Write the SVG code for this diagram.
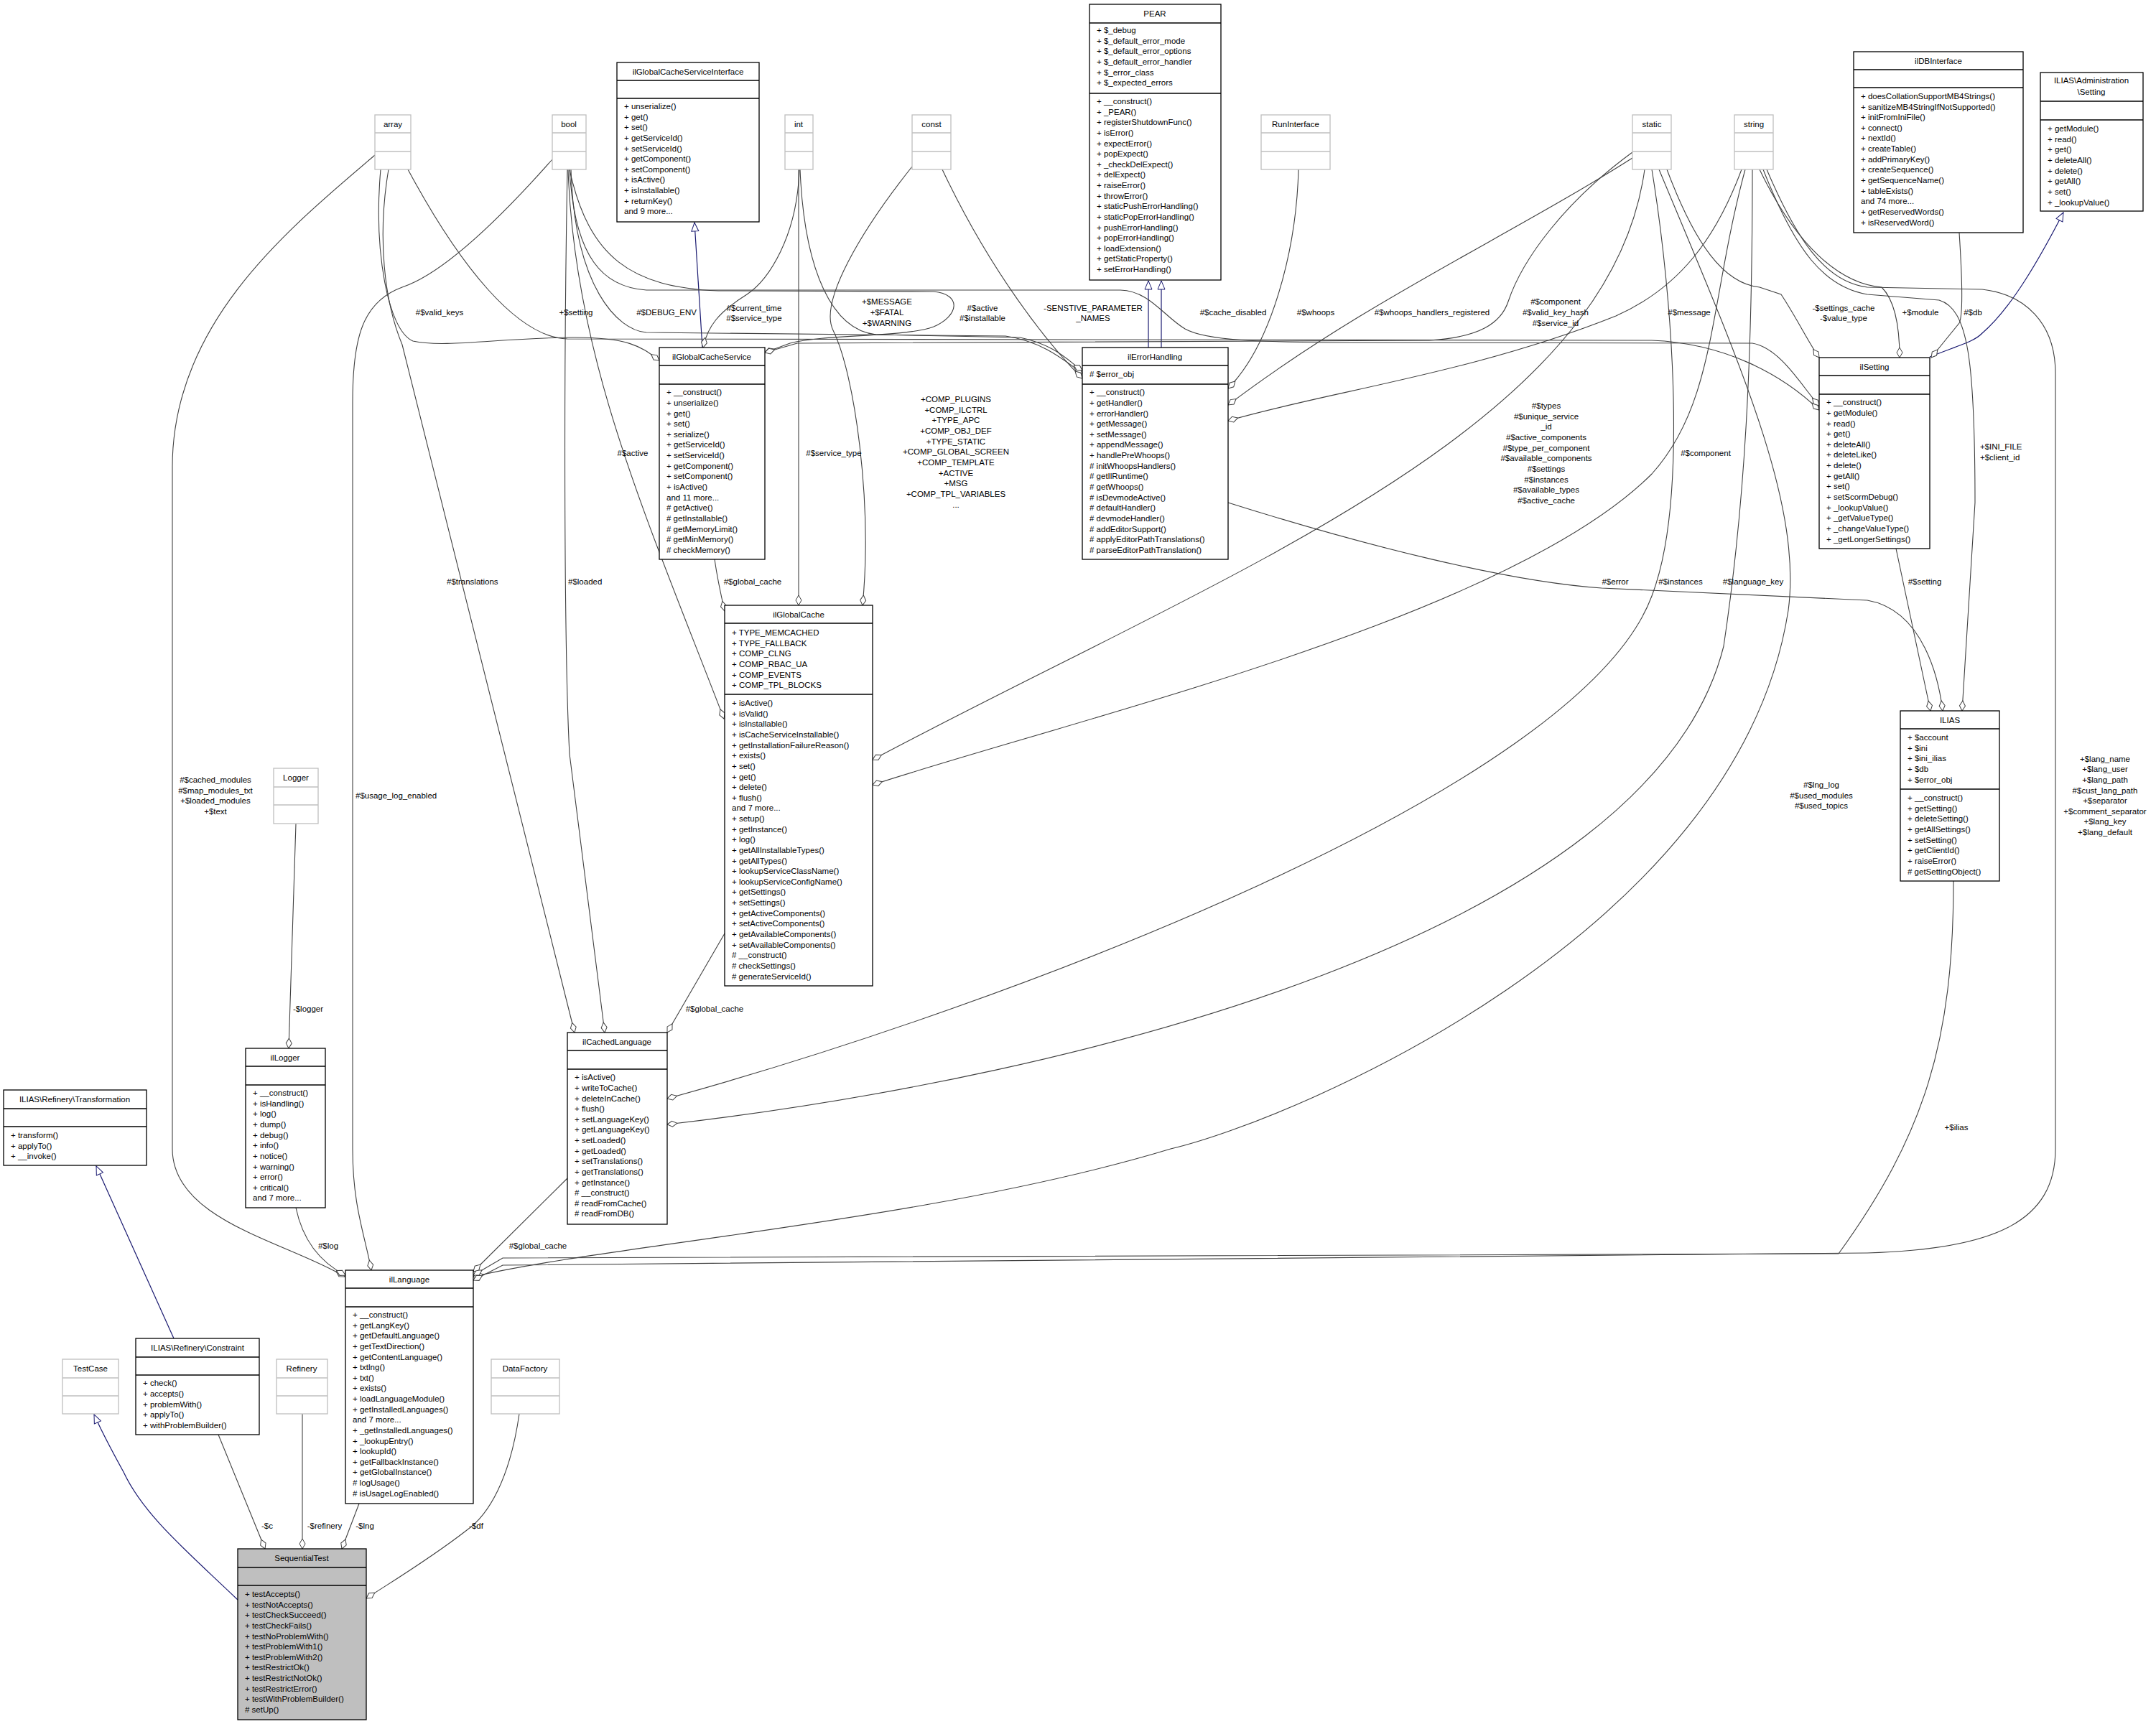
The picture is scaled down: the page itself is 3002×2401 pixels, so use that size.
<svg xmlns="http://www.w3.org/2000/svg" width="3002" height="2401" viewBox="0 0 3002 2401">
<style>
text{font-family:"Liberation Sans",Arial,sans-serif;font-size:11.5px;fill:#000}
.t{text-anchor:middle}
.b{fill:#fff;stroke:#000;stroke-width:1.3}
.g{fill:#fff;stroke:#bfbfbf;stroke-width:1.3}
.s{fill:#bfbfbf;stroke:#000;stroke-width:1.3}
.l{stroke:#000;stroke-width:1.3}
.lg{stroke:#bfbfbf;stroke-width:1.3}
.e{fill:none;stroke:#404040;stroke-width:1.1;marker-end:url(#dia)}
.i{fill:none;stroke:#191970;stroke-width:1.2;marker-end:url(#tri)}
.el{text-anchor:middle}
</style>
<defs>
<marker id="dia" markerWidth="16" markerHeight="10" refX="15" refY="5" orient="auto" markerUnits="userSpaceOnUse"><path d="M1,5 L8,1 L15,5 L8,9 Z" fill="#fff" stroke="#404040" stroke-width="1"/></marker>
<marker id="tri" markerWidth="14" markerHeight="12" refX="13" refY="6" orient="auto" markerUnits="userSpaceOnUse"><path d="M1,1 L13,6 L1,11 Z" fill="#fff" stroke="#191970" stroke-width="1"/></marker>
</defs>
<rect width="3002" height="2401" fill="#fff"/>

<g id="connectors">
<path class="i" d="M978,484 L967,310"/>
<path class="i" d="M1599,484 L1599,391"/>
<path class="i" d="M1617,484 L1617,391"/>
<path class="i" d="M2687,497 C2730,480 2750,475 2760,464 C2800,430 2840,360 2873,296"/>
<path class="i" d="M242,1864 L134,1624"/>
<path class="i" d="M331,2228 C260,2160 200,2110 172,2050 C150,2010 140,1990 131,1970"/>

<path class="e" d="M522,216 C400,320 240,450 240,650 L240,1600 C240,1700 400,1730 480,1778"/>
<path class="e" d="M769,222 C700,300 620,380 560,400 C505,420 491,470 491,560 L491,1600 C491,1680 508,1720 517,1769"/>
<path class="e" d="M541,236 C525,330 535,420 560,480 L800,1438"/>
<path class="e" d="M790,236 C785,500 785,900 793,1050 L842,1438"/>
<path class="e" d="M791,236 C800,500 900,720 1008,1001"/>
<path class="e" d="M530,236 C520,350 540,460 575,475 C620,485 700,470 800,470 C880,470 895,485 918,502"/>
<path class="e" d="M568,236 C640,370 720,470 790,472 L2300,474 C2400,478 2480,520 2533,571"/>
<path class="e" d="M795,236 C800,400 860,460 900,463 L1400,468 C1450,475 1480,500 1507,520"/>
<path class="e" d="M793,236 C800,360 840,400 900,404 L1560,404 C1600,405 1620,440 1650,458 C1680,475 1760,476 1850,477 L2440,478 C2480,485 2510,540 2533,565"/>
<path class="e" d="M1113,236 C1110,330 1070,390 1040,410 C1000,435 985,455 979,484"/>
<path class="e" d="M1112,236 L1112,843"/>
<path class="e" d="M995,779 C998,800 1003,825 1009,851"/>
<path class="e" d="M1270,232 C1200,320 1140,420 1160,460 C1190,520 1215,700 1201,843"/>
<path class="e" d="M1312,236 C1380,380 1460,480 1507,527"/>
<path class="e" d="M1114,236 C1120,380 1160,460 1220,466 L1420,470 C1470,480 1490,505 1507,516"/>
<path class="e" d="M793,236 C820,360 880,400 1000,405 L1300,406 C1340,410 1335,440 1300,455 C1260,470 1150,465 1100,478 L1065,491"/>
<path class="e" d="M2273,212 C2180,280 2120,360 2100,420 C2090,450 2060,470 1990,474 L1110,478 L1065,491"/>
<path class="e" d="M2273,220 C2100,330 1900,420 1710,564"/>
<path class="e" d="M1808,236 C1805,350 1770,480 1710,541"/>
<path class="e" d="M2425,236 C2390,330 2340,400 2250,440 C2050,520 1850,545 1710,586"/>
<path class="e" d="M2290,236 C2240,600 1700,800 1215,1058"/>
<path class="e" d="M2430,236 C2380,420 2390,560 2300,660 C2100,860 1500,1000 1215,1093"/>
<path class="e" d="M2300,236 C2330,420 2350,700 2300,830 C2200,1100 1400,1400 929,1530"/>
<path class="e" d="M2440,236 C2440,500 2430,700 2400,900 C2300,1300 1500,1500 929,1566"/>
<path class="e" d="M2310,236 C2420,500 2510,700 2490,850 C2420,1300 1800,1560 1630,1600 C1300,1700 850,1733 659,1778"/>
<path class="e" d="M2460,236 C2500,330 2540,393 2600,400 L2760,403 C2820,410 2862,450 2862,520 L2862,1600 C2862,1700 2780,1740 2600,1745 L700,1762 L659,1783"/>
<path class="e" d="M2720,1227 C2720,1450 2680,1580 2560,1746 L700,1752 L659,1776"/>
<path class="e" d="M1710,700 C1900,760 2100,810 2230,819 L2600,836 C2680,850 2700,950 2705,990"/>
<path class="e" d="M2640,764 L2688,990"/>
<path class="e" d="M2455,236 C2500,350 2540,400 2600,410 L2700,418 C2740,430 2750,500 2750,700 L2732,990"/>
<path class="e" d="M2728,324 C2733,400 2733,440 2728,450 L2689,498"/>
<path class="e" d="M2450,236 C2500,340 2560,395 2620,400 C2640,420 2645,460 2645,498"/>
<path class="e" d="M2321,236 C2360,340 2400,395 2450,400 L2480,410 C2500,440 2520,480 2533,498"/>
<path class="e" d="M412,1147 L402,1460"/>
<path class="e" d="M1009,1300 L929,1438"/>
<path class="e" d="M790,1641 L659,1771"/>
<path class="e" d="M412,1682 C420,1720 440,1755 481,1776"/>
<path class="e" d="M304,1998 L369,2157"/>
<path class="e" d="M421,1969 L421,2157"/>
<path class="e" d="M500,2094 L476,2157"/>
<path class="e" d="M723,1969 C710,2060 680,2110 650,2131 C600,2170 550,2200 510,2226"/>
</g>

<g id="edge-labels">
<text x="612" y="439" class="el">#$valid_keys</text>
<text x="802" y="439" class="el">+$setting</text>
<text x="928" y="439" class="el">#$DEBUG_ENV</text>
<text x="1050" y="433" class="el">#$current_time</text><text x="1050" y="447" class="el">#$service_type</text>
<text x="1235" y="424" class="el">+$MESSAGE</text><text x="1235" y="439" class="el">+$FATAL</text><text x="1235" y="454" class="el">+$WARNING</text>
<text x="1368" y="433" class="el">#$active</text><text x="1368" y="447" class="el">#$installable</text>
<text x="1522" y="433" class="el">-SENSTIVE_PARAMETER</text><text x="1522" y="447" class="el">_NAMES</text>
<text x="1717" y="439" class="el">#$cache_disabled</text>
<text x="1832" y="439" class="el">#$whoops</text>
<text x="1994" y="439" class="el">#$whoops_handlers_registered</text>
<text x="2166" y="424" class="el">#$component</text><text x="2166" y="439" class="el">#$valid_key_hash</text><text x="2166" y="454" class="el">#$service_id</text>
<text x="2352" y="439" class="el">#$message</text>
<text x="2567" y="433" class="el">-$settings_cache</text><text x="2567" y="447" class="el">-$value_type</text>
<text x="2674" y="439" class="el">+$module</text>
<text x="2747" y="439" class="el">#$db</text>
<text x="881" y="635" class="el">#$active</text>
<text x="1161" y="635" class="el">#$service_type</text>
<text x="1331" y="560" class="el">+COMP_PLUGINS</text><text x="1331" y="575" class="el">+COMP_ILCTRL</text><text x="1331" y="589" class="el">+TYPE_APC</text><text x="1331" y="604" class="el">+COMP_OBJ_DEF</text><text x="1331" y="619" class="el">+TYPE_STATIC</text><text x="1331" y="633" class="el">+COMP_GLOBAL_SCREEN</text><text x="1331" y="648" class="el">+COMP_TEMPLATE</text><text x="1331" y="663" class="el">+ACTIVE</text><text x="1331" y="677" class="el">+MSG</text><text x="1331" y="692" class="el">+COMP_TPL_VARIABLES</text><text x="1331" y="707" class="el">...</text>
<text x="2153" y="569" class="el">#$types</text><text x="2153" y="584" class="el">#$unique_service</text><text x="2153" y="598" class="el">_id</text><text x="2153" y="613" class="el">#$active_components</text><text x="2153" y="628" class="el">#$type_per_component</text><text x="2153" y="642" class="el">#$available_components</text><text x="2153" y="657" class="el">#$settings</text><text x="2153" y="672" class="el">#$instances</text><text x="2153" y="686" class="el">#$available_types</text><text x="2153" y="701" class="el">#$active_cache</text>
<text x="2375" y="635" class="el">#$component</text>
<text x="2757" y="626">+$INI_FILE</text><text x="2757" y="641">+$client_id</text>
<text x="1048" y="814" class="el">#$global_cache</text>
<text x="622" y="814">#$translations</text>
<text x="791" y="814">#$loaded</text>
<text x="2249" y="814" class="el">#$error</text>
<text x="2340" y="814" class="el">#$instances</text>
<text x="2441" y="814" class="el">#$language_key</text>
<text x="2680" y="814" class="el">#$setting</text>
<text x="300" y="1090" class="el">#$cached_modules</text><text x="300" y="1105" class="el">#$map_modules_txt</text><text x="300" y="1119" class="el">+$loaded_modules</text><text x="300" y="1134" class="el">+$text</text>
<text x="495" y="1112">#$usage_log_enabled</text>
<text x="429" y="1409" class="el">-$logger</text>
<text x="995" y="1409" class="el">#$global_cache</text>
<text x="2536" y="1097" class="el">#$lng_log</text><text x="2536" y="1112" class="el">#$used_modules</text><text x="2536" y="1126" class="el">#$used_topics</text>
<text x="2931" y="1061" class="el">+$lang_name</text><text x="2931" y="1075" class="el">+$lang_user</text><text x="2931" y="1090" class="el">+$lang_path</text><text x="2931" y="1105" class="el">#$cust_lang_path</text><text x="2931" y="1119" class="el">+$separator</text><text x="2931" y="1134" class="el">+$comment_separator</text><text x="2931" y="1148" class="el">+$lang_key</text><text x="2931" y="1163" class="el">+$lang_default</text>
<text x="2724" y="1574" class="el">+$ilias</text>
<text x="457" y="1739" class="el">#$log</text>
<text x="749" y="1739" class="el">#$global_cache</text>
<text x="372" y="2129" class="el">-$c</text>
<text x="452" y="2129" class="el">-$refinery</text>
<text x="508" y="2129" class="el">-$lng</text>
<text x="663" y="2129" class="el">-$df</text>
</g>

<g id="array"><rect class="g" x="522" y="160" width="50" height="76"/><line class="lg" x1="522" y1="185" x2="572" y2="185"/><line class="lg" x1="522" y1="211" x2="572" y2="211"/><text class="t" x="547" y="177">array</text></g>
<g id="bool"><rect class="g" x="769" y="160" width="47" height="76"/><line class="lg" x1="769" y1="185" x2="816" y2="185"/><line class="lg" x1="769" y1="211" x2="816" y2="211"/><text class="t" x="792" y="177">bool</text></g>
<g id="int"><rect class="g" x="1093" y="160" width="39" height="76"/><line class="lg" x1="1093" y1="185" x2="1132" y2="185"/><line class="lg" x1="1093" y1="211" x2="1132" y2="211"/><text class="t" x="1112" y="177">int</text></g>
<g id="const"><rect class="g" x="1270" y="160" width="54" height="76"/><line class="lg" x1="1270" y1="185" x2="1324" y2="185"/><line class="lg" x1="1270" y1="211" x2="1324" y2="211"/><text class="t" x="1297" y="177">const</text></g>
<g id="RunInterface"><rect class="g" x="1756" y="160" width="96" height="76"/><line class="lg" x1="1756" y1="185" x2="1852" y2="185"/><line class="lg" x1="1756" y1="211" x2="1852" y2="211"/><text class="t" x="1804" y="177">RunInterface</text></g>
<g id="static"><rect class="g" x="2273" y="160" width="54" height="76"/><line class="lg" x1="2273" y1="185" x2="2327" y2="185"/><line class="lg" x1="2273" y1="211" x2="2327" y2="211"/><text class="t" x="2300" y="177">static</text></g>
<g id="string"><rect class="g" x="2415" y="160" width="54" height="76"/><line class="lg" x1="2415" y1="185" x2="2469" y2="185"/><line class="lg" x1="2415" y1="211" x2="2469" y2="211"/><text class="t" x="2442" y="177">string</text></g>
<g id="Logger"><rect class="g" x="381" y="1070" width="62" height="77"/><line class="lg" x1="381" y1="1096" x2="443" y2="1096"/><line class="lg" x1="381" y1="1121" x2="443" y2="1121"/><text class="t" x="412" y="1087">Logger</text></g>
<g id="TestCase"><rect class="g" x="87" y="1893" width="78" height="76"/><line class="lg" x1="87" y1="1919" x2="165" y2="1919"/><line class="lg" x1="87" y1="1944" x2="165" y2="1944"/><text class="t" x="126" y="1910">TestCase</text></g>
<g id="Refinery"><rect class="g" x="385" y="1893" width="71" height="76"/><line class="lg" x1="385" y1="1919" x2="456" y2="1919"/><line class="lg" x1="385" y1="1944" x2="456" y2="1944"/><text class="t" x="420" y="1910">Refinery</text></g>
<g id="DataFactory"><rect class="g" x="684" y="1893" width="95" height="76"/><line class="lg" x1="684" y1="1919" x2="779" y2="1919"/><line class="lg" x1="684" y1="1944" x2="779" y2="1944"/><text class="t" x="731" y="1910">DataFactory</text></g>

<g id="ilGlobalCacheServiceInterface"><rect class="b" x="859" y="87" width="198" height="222"/><line class="l" x1="859" y1="112" x2="1057" y2="112"/><line class="l" x1="859" y1="137" x2="1057" y2="137"/><text class="t" x="958" y="104">ilGlobalCacheServiceInterface</text>
<text x="869" y="152">+ unserialize()</text><text x="869" y="167">+ get()</text><text x="869" y="181">+ set()</text><text x="869" y="196">+ getServiceId()</text><text x="869" y="211">+ setServiceId()</text><text x="869" y="225">+ getComponent()</text><text x="869" y="240">+ setComponent()</text><text x="869" y="254">+ isActive()</text><text x="869" y="269">+ isInstallable()</text><text x="869" y="284">+ returnKey()</text><text x="869" y="298">and 9 more...</text></g>

<g id="ilGlobalCacheService"><rect class="b" x="918" y="484" width="147" height="295"/><line class="l" x1="918" y1="509" x2="1065" y2="509"/><line class="l" x1="918" y1="535" x2="1065" y2="535"/><text class="t" x="991" y="501">ilGlobalCacheService</text>
<text x="928" y="550">+ __construct()</text><text x="928" y="565">+ unserialize()</text><text x="928" y="580">+ get()</text><text x="928" y="594">+ set()</text><text x="928" y="609">+ serialize()</text><text x="928" y="623">+ getServiceId()</text><text x="928" y="638">+ setServiceId()</text><text x="928" y="653">+ getComponent()</text><text x="928" y="667">+ setComponent()</text><text x="928" y="682">+ isActive()</text><text x="928" y="697">and 11 more...</text><text x="928" y="711"># getActive()</text><text x="928" y="726"># getInstallable()</text><text x="928" y="741"># getMemoryLimit()</text><text x="928" y="755"># getMinMemory()</text><text x="928" y="770"># checkMemory()</text></g>

<g id="PEAR"><rect class="b" x="1517" y="6" width="183" height="384"/><line class="l" x1="1517" y1="32" x2="1700" y2="32"/><line class="l" x1="1517" y1="130" x2="1700" y2="130"/><text class="t" x="1608" y="23">PEAR</text>
<text x="1527" y="46">+ $_debug</text><text x="1527" y="61">+ $_default_error_mode</text><text x="1527" y="75">+ $_default_error_options</text><text x="1527" y="90">+ $_default_error_handler</text><text x="1527" y="105">+ $_error_class</text><text x="1527" y="119">+ $_expected_errors</text>
<text x="1527" y="145">+ __construct()</text><text x="1527" y="160">+ _PEAR()</text><text x="1527" y="174">+ registerShutdownFunc()</text><text x="1527" y="189">+ isError()</text><text x="1527" y="204">+ expectError()</text><text x="1527" y="218">+ popExpect()</text><text x="1527" y="233">+ _checkDelExpect()</text><text x="1527" y="247">+ delExpect()</text><text x="1527" y="262">+ raiseError()</text><text x="1527" y="277">+ throwError()</text><text x="1527" y="291">+ staticPushErrorHandling()</text><text x="1527" y="306">+ staticPopErrorHandling()</text><text x="1527" y="321">+ pushErrorHandling()</text><text x="1527" y="335">+ popErrorHandling()</text><text x="1527" y="350">+ loadExtension()</text><text x="1527" y="364">+ getStaticProperty()</text><text x="1527" y="379">+ setErrorHandling()</text></g>

<g id="ilErrorHandling"><rect class="b" x="1507" y="484" width="203" height="295"/><line class="l" x1="1507" y1="509" x2="1710" y2="509"/><line class="l" x1="1507" y1="535" x2="1710" y2="535"/><text class="t" x="1608" y="501">ilErrorHandling</text><text x="1517" y="525"># $error_obj</text>
<text x="1517" y="550">+ __construct()</text><text x="1517" y="565">+ getHandler()</text><text x="1517" y="580">+ errorHandler()</text><text x="1517" y="594">+ getMessage()</text><text x="1517" y="609">+ setMessage()</text><text x="1517" y="623">+ appendMessage()</text><text x="1517" y="638">+ handlePreWhoops()</text><text x="1517" y="653"># initWhoopsHandlers()</text><text x="1517" y="667"># getIlRuntime()</text><text x="1517" y="682"># getWhoops()</text><text x="1517" y="697"># isDevmodeActive()</text><text x="1517" y="711"># defaultHandler()</text><text x="1517" y="726"># devmodeHandler()</text><text x="1517" y="741"># addEditorSupport()</text><text x="1517" y="755"># applyEditorPathTranslations()</text><text x="1517" y="770"># parseEditorPathTranslation()</text></g>

<g id="ilDBInterface"><rect class="b" x="2581" y="72" width="236" height="252"/><line class="l" x1="2581" y1="97" x2="2817" y2="97"/><line class="l" x1="2581" y1="122" x2="2817" y2="122"/><text class="t" x="2699" y="89">ilDBInterface</text>
<text x="2591" y="138">+ doesCollationSupportMB4Strings()</text><text x="2591" y="153">+ sanitizeMB4StringIfNotSupported()</text><text x="2591" y="167">+ initFromIniFile()</text><text x="2591" y="182">+ connect()</text><text x="2591" y="196">+ nextId()</text><text x="2591" y="211">+ createTable()</text><text x="2591" y="226">+ addPrimaryKey()</text><text x="2591" y="240">+ createSequence()</text><text x="2591" y="255">+ getSequenceName()</text><text x="2591" y="270">+ tableExists()</text><text x="2591" y="284">and 74 more...</text><text x="2591" y="299">+ getReservedWords()</text><text x="2591" y="314">+ isReservedWord()</text></g>

<g id="ILIAS_Administration_Setting"><rect class="b" x="2841" y="101" width="143" height="193"/><line class="l" x1="2841" y1="141" x2="2984" y2="141"/><line class="l" x1="2841" y1="167" x2="2984" y2="167"/><text class="t" x="2912" y="116">ILIAS\Administration</text><text class="t" x="2912" y="132">\Setting</text>
<text x="2851" y="183">+ getModule()</text><text x="2851" y="198">+ read()</text><text x="2851" y="212">+ get()</text><text x="2851" y="227">+ deleteAll()</text><text x="2851" y="242">+ delete()</text><text x="2851" y="256">+ getAll()</text><text x="2851" y="271">+ set()</text><text x="2851" y="286">+ _lookupValue()</text></g>

<g id="ilSetting"><rect class="b" x="2533" y="498" width="154" height="266"/><line class="l" x1="2533" y1="523" x2="2687" y2="523"/><line class="l" x1="2533" y1="549" x2="2687" y2="549"/><text class="t" x="2610" y="515">ilSetting</text>
<text x="2543" y="564">+ __construct()</text><text x="2543" y="579">+ getModule()</text><text x="2543" y="594">+ read()</text><text x="2543" y="608">+ get()</text><text x="2543" y="623">+ deleteAll()</text><text x="2543" y="637">+ deleteLike()</text><text x="2543" y="652">+ delete()</text><text x="2543" y="667">+ getAll()</text><text x="2543" y="681">+ set()</text><text x="2543" y="696">+ setScormDebug()</text><text x="2543" y="711">+ _lookupValue()</text><text x="2543" y="725">+ _getValueType()</text><text x="2543" y="740">+ _changeValueType()</text><text x="2543" y="755">+ _getLongerSettings()</text></g>

<g id="ilGlobalCache"><rect class="b" x="1009" y="843" width="206" height="530"/><line class="l" x1="1009" y1="868" x2="1215" y2="868"/><line class="l" x1="1009" y1="967" x2="1215" y2="967"/><text class="t" x="1112" y="860">ilGlobalCache</text>
<text x="1019" y="885">+ TYPE_MEMCACHED</text><text x="1019" y="900">+ TYPE_FALLBACK</text><text x="1019" y="914">+ COMP_CLNG</text><text x="1019" y="929">+ COMP_RBAC_UA</text><text x="1019" y="944">+ COMP_EVENTS</text><text x="1019" y="958">+ COMP_TPL_BLOCKS</text>
<text x="1019" y="983">+ isActive()</text><text x="1019" y="998">+ isValid()</text><text x="1019" y="1012">+ isInstallable()</text><text x="1019" y="1027">+ isCacheServiceInstallable()</text><text x="1019" y="1042">+ getInstallationFailureReason()</text><text x="1019" y="1056">+ exists()</text><text x="1019" y="1071">+ set()</text><text x="1019" y="1086">+ get()</text><text x="1019" y="1100">+ delete()</text><text x="1019" y="1115">+ flush()</text><text x="1019" y="1129">and 7 more...</text><text x="1019" y="1144">+ setup()</text><text x="1019" y="1159">+ getInstance()</text><text x="1019" y="1173">+ log()</text><text x="1019" y="1188">+ getAllInstallableTypes()</text><text x="1019" y="1203">+ getAllTypes()</text><text x="1019" y="1217">+ lookupServiceClassName()</text><text x="1019" y="1232">+ lookupServiceConfigName()</text><text x="1019" y="1246">+ getSettings()</text><text x="1019" y="1261">+ setSettings()</text><text x="1019" y="1276">+ getActiveComponents()</text><text x="1019" y="1290">+ setActiveComponents()</text><text x="1019" y="1305">+ getAvailableComponents()</text><text x="1019" y="1320">+ setAvailableComponents()</text><text x="1019" y="1334"># __construct()</text><text x="1019" y="1349"># checkSettings()</text><text x="1019" y="1364"># generateServiceId()</text></g>

<g id="ILIAS"><rect class="b" x="2646" y="990" width="138" height="237"/><line class="l" x1="2646" y1="1015" x2="2784" y2="1015"/><line class="l" x1="2646" y1="1099" x2="2784" y2="1099"/><text class="t" x="2715" y="1007">ILIAS</text>
<text x="2656" y="1031">+ $account</text><text x="2656" y="1046">+ $ini</text><text x="2656" y="1060">+ $ini_ilias</text><text x="2656" y="1075">+ $db</text><text x="2656" y="1090">+ $error_obj</text>
<text x="2656" y="1115">+ __construct()</text><text x="2656" y="1130">+ getSetting()</text><text x="2656" y="1144">+ deleteSetting()</text><text x="2656" y="1159">+ getAllSettings()</text><text x="2656" y="1174">+ setSetting()</text><text x="2656" y="1188">+ getClientId()</text><text x="2656" y="1203">+ raiseError()</text><text x="2656" y="1218"># getSettingObject()</text></g>

<g id="ilLogger"><rect class="b" x="342" y="1460" width="111" height="222"/><line class="l" x1="342" y1="1485" x2="453" y2="1485"/><line class="l" x1="342" y1="1511" x2="453" y2="1511"/><text class="t" x="397" y="1477">ilLogger</text>
<text x="352" y="1526">+ __construct()</text><text x="352" y="1541">+ isHandling()</text><text x="352" y="1555">+ log()</text><text x="352" y="1570">+ dump()</text><text x="352" y="1585">+ debug()</text><text x="352" y="1599">+ info()</text><text x="352" y="1614">+ notice()</text><text x="352" y="1629">+ warning()</text><text x="352" y="1643">+ error()</text><text x="352" y="1658">+ critical()</text><text x="352" y="1672">and 7 more...</text></g>

<g id="ILIAS_Refinery_Transformation"><rect class="b" x="5" y="1518" width="199" height="105"/><line class="l" x1="5" y1="1544" x2="204" y2="1544"/><line class="l" x1="5" y1="1569" x2="204" y2="1569"/><text class="t" x="104" y="1535">ILIAS\Refinery\Transformation</text>
<text x="15" y="1585">+ transform()</text><text x="15" y="1600">+ applyTo()</text><text x="15" y="1614">+ __invoke()</text></g>

<g id="ilCachedLanguage"><rect class="b" x="790" y="1438" width="139" height="267"/><line class="l" x1="790" y1="1463" x2="929" y2="1463"/><line class="l" x1="790" y1="1489" x2="929" y2="1489"/><text class="t" x="859" y="1455">ilCachedLanguage</text>
<text x="800" y="1504">+ isActive()</text><text x="800" y="1519">+ writeToCache()</text><text x="800" y="1534">+ deleteInCache()</text><text x="800" y="1548">+ flush()</text><text x="800" y="1563">+ setLanguageKey()</text><text x="800" y="1577">+ getLanguageKey()</text><text x="800" y="1592">+ setLoaded()</text><text x="800" y="1607">+ getLoaded()</text><text x="800" y="1621">+ setTranslations()</text><text x="800" y="1636">+ getTranslations()</text><text x="800" y="1651">+ getInstance()</text><text x="800" y="1665"># __construct()</text><text x="800" y="1680"># readFromCache()</text><text x="800" y="1694"># readFromDB()</text></g>

<g id="ilLanguage"><rect class="b" x="481" y="1769" width="178" height="325"/><line class="l" x1="481" y1="1794" x2="659" y2="1794"/><line class="l" x1="481" y1="1820" x2="659" y2="1820"/><text class="t" x="570" y="1786">ilLanguage</text>
<text x="491" y="1835">+ __construct()</text><text x="491" y="1850">+ getLangKey()</text><text x="491" y="1864">+ getDefaultLanguage()</text><text x="491" y="1879">+ getTextDirection()</text><text x="491" y="1894">+ getContentLanguage()</text><text x="491" y="1908">+ txtlng()</text><text x="491" y="1923">+ txt()</text><text x="491" y="1937">+ exists()</text><text x="491" y="1952">+ loadLanguageModule()</text><text x="491" y="1967">+ getInstalledLanguages()</text><text x="491" y="1981">and 7 more...</text><text x="491" y="1996">+ _getInstalledLanguages()</text><text x="491" y="2011">+ _lookupEntry()</text><text x="491" y="2025">+ lookupId()</text><text x="491" y="2040">+ getFallbackInstance()</text><text x="491" y="2054">+ getGlobalInstance()</text><text x="491" y="2069"># logUsage()</text><text x="491" y="2084"># isUsageLogEnabled()</text></g>

<g id="ILIAS_Refinery_Constraint"><rect class="b" x="189" y="1864" width="172" height="134"/><line class="l" x1="189" y1="1890" x2="361" y2="1890"/><line class="l" x1="189" y1="1915" x2="361" y2="1915"/><text class="t" x="275" y="1881">ILIAS\Refinery\Constraint</text>
<text x="199" y="1930">+ check()</text><text x="199" y="1945">+ accepts()</text><text x="199" y="1960">+ problemWith()</text><text x="199" y="1974">+ applyTo()</text><text x="199" y="1989">+ withProblemBuilder()</text></g>

<g id="SequentialTest"><rect class="s" x="331" y="2157" width="179" height="238"/><line class="l" x1="331" y1="2183" x2="510" y2="2183"/><line class="l" x1="331" y1="2208" x2="510" y2="2208"/><text class="t" x="420" y="2174">SequentialTest</text>
<text x="341" y="2224">+ testAccepts()</text><text x="341" y="2239">+ testNotAccepts()</text><text x="341" y="2253">+ testCheckSucceed()</text><text x="341" y="2268">+ testCheckFails()</text><text x="341" y="2283">+ testNoProblemWith()</text><text x="341" y="2297">+ testProblemWith1()</text><text x="341" y="2312">+ testProblemWith2()</text><text x="341" y="2326">+ testRestrictOk()</text><text x="341" y="2341">+ testRestrictNotOk()</text><text x="341" y="2356">+ testRestrictError()</text><text x="341" y="2370">+ testWithProblemBuilder()</text><text x="341" y="2385"># setUp()</text></g>
</svg>
